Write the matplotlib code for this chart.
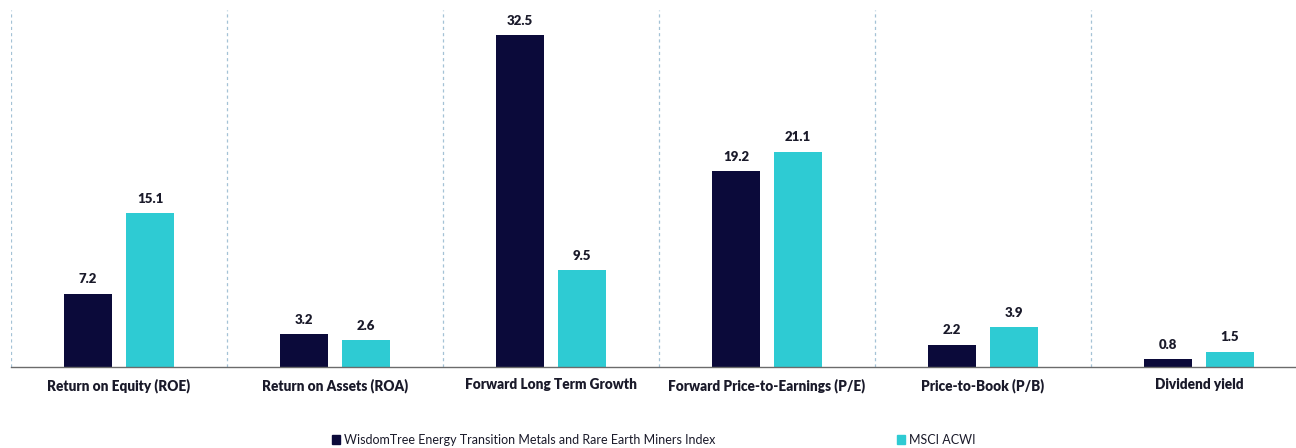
import matplotlib
matplotlib.use("Agg")
import matplotlib.pyplot as plt
from matplotlib.patches import Patch
import numpy as np

categories = ["Return on Equity (ROE)", "Return on Assets (ROA)", "Forward Long Term Growth",
              "Forward Price-to-Earnings (P/E)", "Price-to-Book (P/B)", "Dividend yield"]
wisdomtree = [7.2, 3.2, 32.5, 19.2, 2.2, 0.8]
msci = [15.1, 2.6, 9.5, 21.1, 3.9, 1.5]
series_names = ["WisdomTree Energy Transition Metals and Rare Earth Miners Index", "MSCI ACWI"]

dark = "#0b0a3a"
cyan = "#2ecbd3"
font = ["Lato", "DejaVu Sans"]
plt.rcParams['font.family'] = font

W, H = 1296, 448
fig = plt.figure(figsize=(W / 100, H / 100), dpi=100)
ax = fig.add_axes([11 / W, (H - 367) / H, 1296 / W, 357 / H])

x = np.arange(len(categories))
bw = 0.222
off = 0.1435
b1 = ax.bar(x - off, wisdomtree, bw, color=dark)
b2 = ax.bar(x + off, msci, bw, color=cyan)
for bars, vals in ((b1, wisdomtree), (b2, msci)):
    for r, v in zip(bars, vals):
        ax.annotate(f"{v:.1f}", (r.get_x() + r.get_width() / 2, v), xytext=(0, 6),
                    textcoords="offset points", ha="center", va="bottom",
                    fontsize=9.5, fontweight="heavy", color="#1a1a2a")

for b in np.arange(-0.5, len(categories), 1.0):
    ax.axvline(b, color="#a4c2d6", lw=0.9, linestyle=(0, (2.5, 2.5)), zorder=0)

ax.set_xlim(-0.5, len(categories) - 0.5)
ax.set_ylim(0, 35)
ax.set_yticks([])
ax.set_xticks(x)
ax.set_xticklabels(categories, fontsize=9.8, fontweight="heavy", color="#1a1a2a")
ax.tick_params(axis="x", length=0, pad=8)
for s in ("top", "right", "left"):
    ax.spines[s].set_visible(False)
ax.spines["bottom"].set_color("#6b6b6b")
ax.spines["bottom"].set_linewidth(1.0)

handles = [Patch(color=dark), Patch(color=cyan)]
fig.legend(handles, series_names, loc="center left", bbox_to_anchor=(321 / W, 1 - 440 / H),
           ncol=2, frameon=False, fontsize=9, handlelength=0.65, handleheight=0.65,
           handletextpad=0.3, columnspacing=14.5, labelcolor="#1a1a2a")

fig.savefig("out.png", dpi=100)
